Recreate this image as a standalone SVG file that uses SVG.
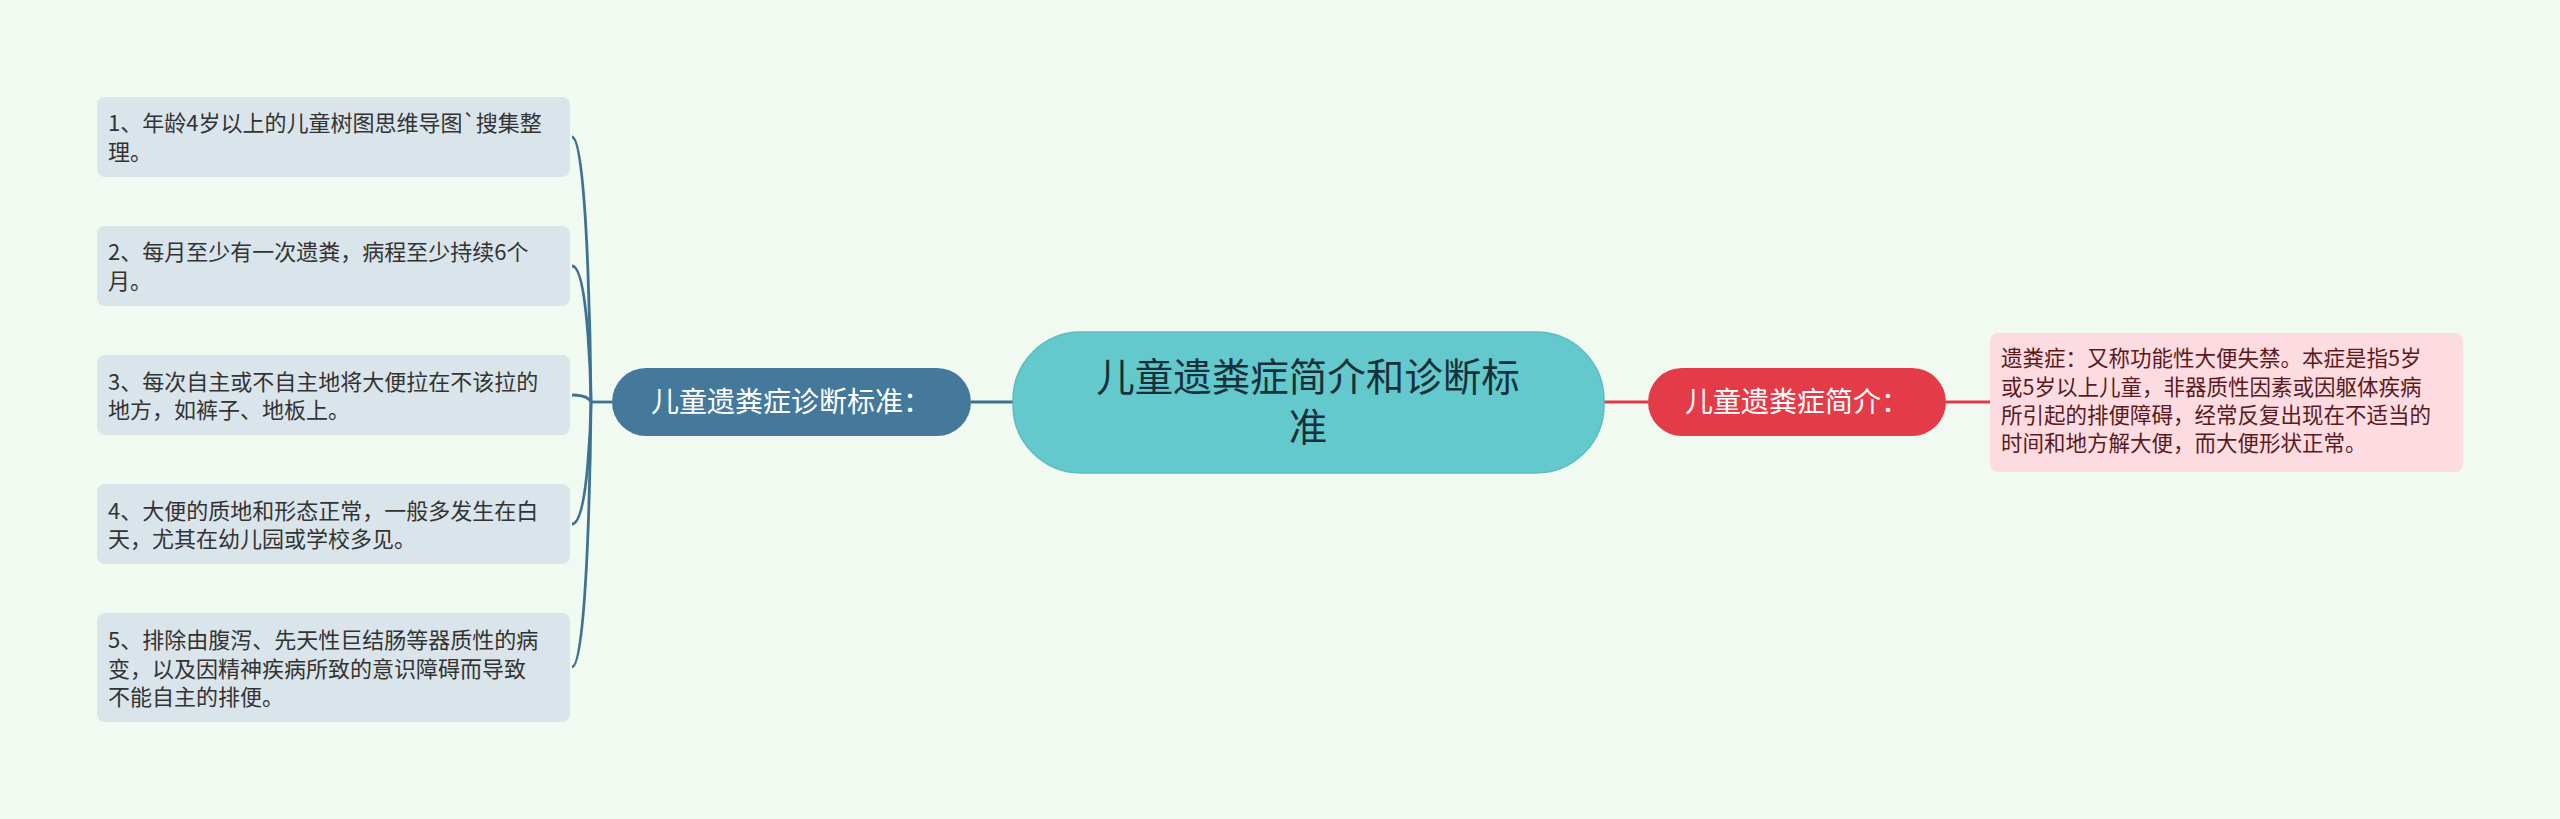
<svg xmlns="http://www.w3.org/2000/svg" width="2560" height="819" viewBox="0 0 2560 819">
<style>
.leaf{fill:#dae4eb}
.lt{font-family:"Noto Sans CJK SC","Noto Sans",sans-serif;font-size:22px;fill:#333333}
.pt{font-family:"Noto Sans CJK SC","Noto Sans",sans-serif;font-size:21.5px;fill:#5a1a20}
.nt{font-family:"Noto Sans CJK SC","Noto Sans",sans-serif;font-size:28px;fill:#ffffff;text-anchor:middle}
.ct{font-family:"Noto Sans CJK SC","Noto Sans",sans-serif;font-size:38.5px;fill:#17313a;text-anchor:middle}
.bl{fill:none;stroke:#3f7192;stroke-width:2.8}
.rl{fill:none;stroke:#e23a48;stroke-width:2.8}
</style>
<rect width="2560" height="819" fill="#f0faf0"/>
<g id="connectors">
<path class="bl" d="M1013 402 L971 402"/>
<path class="bl" d="M612 402 L591 402"/>
<path class="bl" d="M591 402 C591 402 589 137 572 137"/>
<path class="bl" d="M591 402 C591 402 589 266 572 266"/>
<path class="bl" d="M591 402 C591 402 589 395 572 395"/>
<path class="bl" d="M591 402 C591 402 589 524 572 524"/>
<path class="bl" d="M591 402 C591 402 589 667 572 667"/>
<path class="rl" d="M1604 402 L1648 402"/>
<path class="rl" d="M1946 402 L1990 402"/>
</g>
<g id="center">
<rect x="1013" y="332" width="591" height="141" rx="68" fill="#64c9cd" stroke="#5bbcc0" stroke-width="1.5"/>
<text class="ct"><tspan x="1308" y="391">儿童遗粪症简介和诊断标</tspan><tspan x="1308" y="441">准</tspan></text>
</g>
<g id="diag">
<rect x="612" y="368" width="359" height="68" rx="34" fill="#45799b"/>
<text class="nt" x="791" y="412">儿童遗粪症诊断标准：</text>
</g>
<g id="intro">
<rect x="1648" y="368" width="298" height="68" rx="34" fill="#e43b48"/>
<text class="nt" x="1797" y="412">儿童遗粪症简介：</text>
</g>
<g id="intro-text">
<rect x="1990" y="333" width="473" height="139" rx="8" fill="#fcdce0"/>
<text class="pt" x="2001" y="366">遗粪症：又称功能性大便失禁。本症是指5岁</text>
<text class="pt" x="2001" y="394.5">或5岁以上儿童，非器质性因素或因躯体疾病</text>
<text class="pt" x="2001" y="423">所引起的排便障碍，经常反复出现在不适当的</text>
<text class="pt" x="2001" y="451">时间和地方解大便，而大便形状正常。</text>
</g>
<g id="item1">
<rect class="leaf" x="97" y="97" width="473" height="80" rx="8"/>
<text class="lt" x="108" y="131">1、年龄4岁以上的儿童树图思维导图`搜集整</text>
<text class="lt" x="108" y="159.5">理。</text>
</g>
<g id="item2">
<rect class="leaf" x="97" y="226" width="473" height="80" rx="8"/>
<text class="lt" x="108" y="260">2、每月至少有一次遗粪，病程至少持续6个</text>
<text class="lt" x="108" y="289">月。</text>
</g>
<g id="item3">
<rect class="leaf" x="97" y="355" width="473" height="80" rx="8"/>
<text class="lt" x="108" y="390">3、每次自主或不自主地将大便拉在不该拉的</text>
<text class="lt" x="108" y="418">地方，如裤子、地板上。</text>
</g>
<g id="item4">
<rect class="leaf" x="97" y="484" width="473" height="80" rx="8"/>
<text class="lt" x="108" y="518.5">4、大便的质地和形态正常，一般多发生在白</text>
<text class="lt" x="108" y="547">天，尤其在幼儿园或学校多见。</text>
</g>
<g id="item5">
<rect class="leaf" x="97" y="613" width="473" height="109" rx="8"/>
<text class="lt" x="108" y="648">5、排除由腹泻、先天性巨结肠等器质性的病</text>
<text class="lt" x="108" y="676.5">变，以及因精神疾病所致的意识障碍而导致</text>
<text class="lt" x="108" y="705">不能自主的排便。</text>
</g>
</svg>
